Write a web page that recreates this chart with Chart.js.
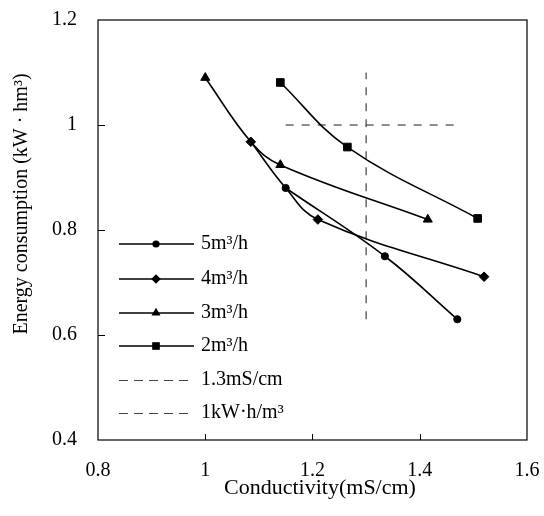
<!DOCTYPE html>
<html>
<head>
<meta charset="utf-8">
<script src="https://cdn.jsdelivr.net/npm/chart.js@4/dist/chart.umd.min.js"></script>
<style>
html,body{margin:0;padding:0;background:#fff;}
#wrap{width:544px;height:516px;}
</style>
</head>
<body>
<div id="wrap"><canvas id="c" width="544" height="516"></canvas></div>
<script>
// ---- data ----
const seriesLabels = ['5m\u00B3/h', '4m\u00B3/h', '3m\u00B3/h', '2m\u00B3/h'];
const flow5X = [1.15, 1.335, 1.47];
const flow5Y = [0.88, 0.75, 0.63];
const flow4X = [1.085, 1.15, 1.21, 1.52];
const flow4Y = [0.968, 0.88, 0.82, 0.711];
const flow3X = [1.0, 1.085, 1.14, 1.415];
const flow3Y = [1.09, 0.968, 0.924, 0.82];
const flow2X = [1.14, 1.265, 1.508];
const flow2Y = [1.081, 0.958, 0.822];
const refVLabel = '1.3mS/cm';
const refVX = [1.3, 1.3];
const refVY = [0.63, 1.1];
const refHLabel = '1kW\u00B7h/m\u00B3';
const refHX = [1.15, 1.47];
const refHY = [1.0, 1.0];
const xTicks = [0.8, 1.0, 1.2, 1.4, 1.6];
const yTicks = [0.4, 0.6, 0.8, 1.0, 1.2];
const xTitle = 'Conductivity(mS/cm)';
const yTitle = 'Energy consumption (kW \u00B7 hm\u00B3)';

const pts = (xs, ys) => xs.map((x, i) => ({x: x, y: ys[i]}));
const FONT = '"Liberation Serif", "Times New Roman", serif';

function lineDs(label, xs, ys, style, radius, radii) {
  return {
    label: label, data: pts(xs, ys), showLine: true,
    borderColor: '#000', backgroundColor: '#000', borderWidth: 1.6,
    pointStyle: style, pointRadius: radii || radius, pointHoverRadius: radius,
    pointBackgroundColor: '#000', pointBorderColor: '#000', pointBorderWidth: 1,
    tension: 0.4, _legendRadius: radius
  };
}
function dashDs(label, xs, ys) {
  return {
    label: label, data: pts(xs, ys), showLine: true,
    borderColor: '#444', borderWidth: 1.2, borderDash: [8, 8],
    pointRadius: 0, tension: 0, _legendDash: true
  };
}

const datasets = [
  lineDs(seriesLabels[0], flow5X, flow5Y, 'circle', 3.6),
  lineDs(seriesLabels[1], flow4X, flow4Y, 'rectRot', 4.8, [4.8, 0, 4.8, 4.8]),
  lineDs(seriesLabels[2], flow3X, flow3Y, 'triangle', 5.2, [5.2, 0, 5.2, 5.2]),
  lineDs(seriesLabels[3], flow2X, flow2Y, 'rect', 5.4),
  dashDs(refVLabel, refVX, refVY),
  dashDs(refHLabel, refHX, refHY)
];

function drawMarker(ctx, style, r, x, y) {
  ctx.save();
  ctx.fillStyle = '#000';
  ctx.beginPath();
  if (style === 'circle') {
    ctx.arc(x, y, r, 0, Math.PI * 2);
  } else if (style === 'rectRot') {
    ctx.moveTo(x, y - r); ctx.lineTo(x + r, y); ctx.lineTo(x, y + r); ctx.lineTo(x - r, y);
  } else if (style === 'triangle') {
    ctx.moveTo(x, y - r); ctx.lineTo(x + r * 0.866, y + r * 0.5); ctx.lineTo(x - r * 0.866, y + r * 0.5);
  } else if (style === 'rect') {
    const s = r * Math.SQRT1_2;
    ctx.rect(x - s, y - s, 2 * s, 2 * s);
  }
  ctx.closePath();
  ctx.fill();
  ctx.restore();
}

const framePlugin = {
  id: 'frame',
  afterDraw(chart) {
    const ctx = chart.ctx;
    const a = chart.chartArea;
    const xs = chart.scales.x, ys = chart.scales.y;
    ctx.save();
    // plot box
    ctx.strokeStyle = '#000';
    ctx.lineWidth = 1.2;
    ctx.strokeRect(a.left, a.top, a.right - a.left, a.bottom - a.top);
    // inside tick marks
    ctx.lineWidth = 1;
    yTicks.forEach(v => {
      const p = Math.round(ys.getPixelForValue(v)) + 0.5;
      if (p <= a.top + 1 || p >= a.bottom - 1) return;
      ctx.beginPath(); ctx.moveTo(a.left, p); ctx.lineTo(a.left + 7, p); ctx.stroke();
    });
    xTicks.forEach(v => {
      const p = Math.round(xs.getPixelForValue(v)) + 0.5;
      if (p <= a.left + 1 || p >= a.right - 1) return;
      ctx.beginPath(); ctx.moveTo(p, a.bottom); ctx.lineTo(p, a.bottom - 6); ctx.stroke();
    });
    // axis titles
    ctx.fillStyle = '#000';
    ctx.textAlign = 'center';
    ctx.textBaseline = 'middle';
    ctx.font = '22px ' + FONT;
    ctx.fillText(xTitle, 320, 488);
    ctx.save();
    ctx.translate(22, 204);
    ctx.rotate(-Math.PI / 2);
    ctx.font = '20px ' + FONT;
    ctx.fillText(yTitle, 0, 0);
    ctx.restore();
    // legend
    const rowsY = [244, 279, 313, 346, 380, 413];
    ctx.font = '20px ' + FONT;
    ctx.textAlign = 'left';
    chart.data.datasets.forEach((ds, i) => {
      const y = rowsY[i];
      ctx.save();
      if (ds._legendDash) {
        ctx.strokeStyle = '#444';
        ctx.lineWidth = 1.2;
        ctx.setLineDash([9, 6]);
        ctx.beginPath(); ctx.moveTo(119, y + 0.5); ctx.lineTo(192, y + 0.5); ctx.stroke();
      } else {
        ctx.strokeStyle = '#000';
        ctx.lineWidth = 1.6;
        ctx.beginPath(); ctx.moveTo(119, y); ctx.lineTo(194, y); ctx.stroke();
        drawMarker(ctx, ds.pointStyle, ds._legendRadius, 156, y);
      }
      ctx.restore();
      ctx.fillText(ds.label, 201, y);
    });
    ctx.restore();
  }
};

new Chart(document.getElementById('c'), {
  type: 'scatter',
  data: { datasets: datasets },
  options: {
    responsive: false,
    animation: false,
    devicePixelRatio: 1,
    layout: { padding: { top: 20, right: 17, left: 0, bottom: 0 } },
    plugins: { legend: { display: false }, tooltip: { enabled: false } },
    scales: {
      x: {
        type: 'linear', min: 0.8, max: 1.6,
        afterBuildTicks: s => { s.ticks = xTicks.map(v => ({value: v})); },
        afterFit: s => { s.height = 76; },
        grid: { display: false, drawTicks: true, tickLength: 19 },
        border: { display: false },
        ticks: {
          padding: 0, color: '#000', font: { family: FONT, size: 20 },
          callback: v => String(+v.toFixed(1))
        }
      },
      y: {
        type: 'linear', min: 0.4, max: 1.2,
        afterBuildTicks: s => { s.ticks = yTicks.map(v => ({value: v})); },
        afterFit: s => { s.width = 98; },
        grid: { display: false, drawTicks: true, tickLength: 21 },
        border: { display: false },
        ticks: {
          padding: 0, color: '#000', font: { family: FONT, size: 20 },
          callback: v => String(+v.toFixed(1))
        }
      }
    }
  },
  plugins: [framePlugin]
});
</script>
</body>
</html>
